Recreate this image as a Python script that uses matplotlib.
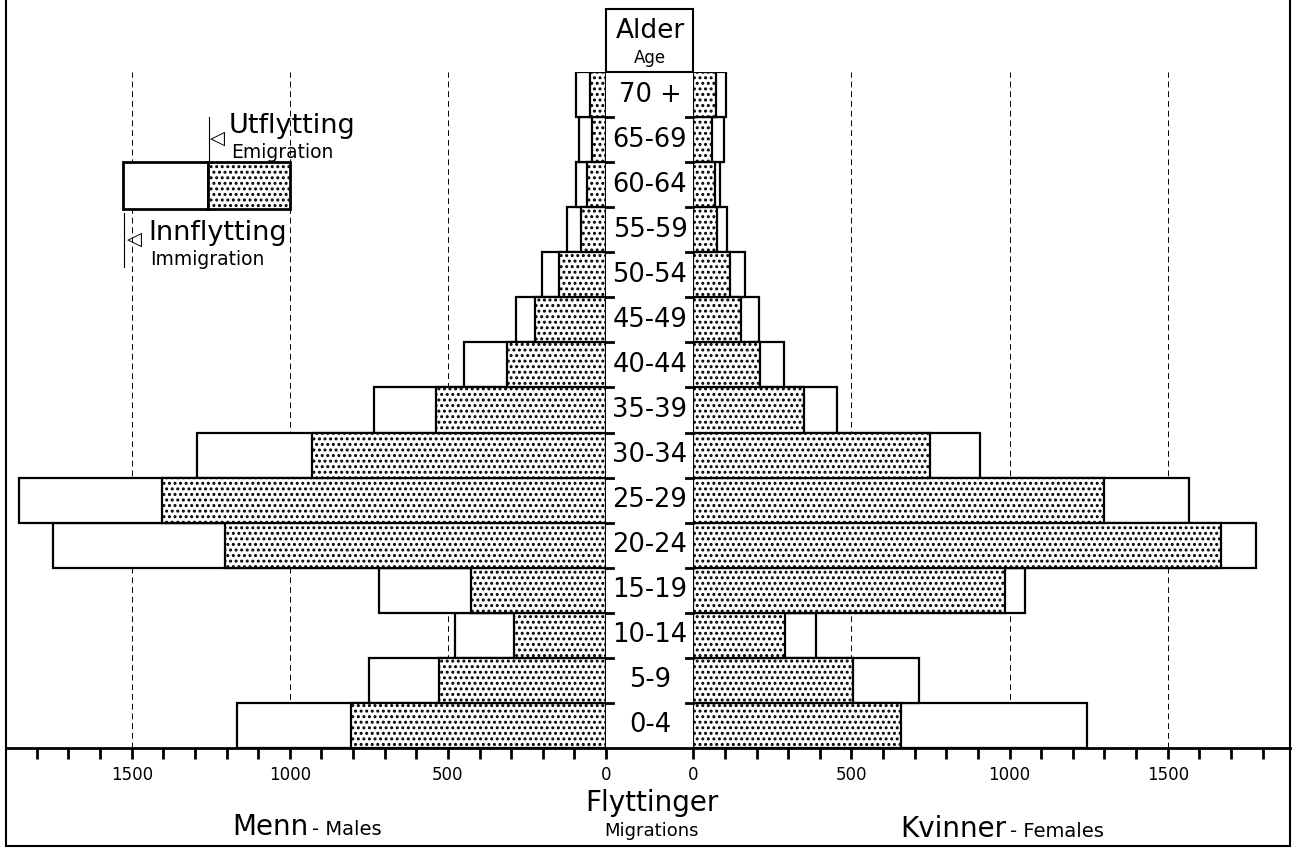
import matplotlib
matplotlib.use("Agg")
import matplotlib.pyplot as plt
from matplotlib import font_manager
from matplotlib.patches import Rectangle
from matplotlib.lines import Line2D
import numpy as np

# age groups, bottom to top
ages = ['0-4', '5-9', '10-14', '15-19', '20-24', '25-29', '30-34', '35-39',
        '40-44', '45-49', '50-54', '55-59', '60-64', '65-69', '70 +']

# Menn - Males
males_immigration = [1166, 748, 476, 717, 1749, 1855, 1295, 733, 450, 286, 203, 123, 95, 84, 94]
males_emigration = [806, 527, 290, 428, 1205, 1405, 929, 537, 312, 225, 149, 80, 61, 43, 51]

# Kvinner - Females
females_immigration = [1246, 712, 389, 1050, 1779, 1567, 905, 454, 287, 207, 164, 106, 84, 96, 103]
females_emigration = [655, 505, 290, 985, 1669, 1297, 749, 350, 211, 152, 116, 74, 67, 59, 70]

tick_labels = [0, 500, 1000, 1500]

W, H = 1305, 848
names = {f.name for f in font_manager.fontManager.ttflist}
if 'Liberation Sans Narrow' in names:
    NARROW, age_size, tick_size = 'Liberation Sans Narrow', 22, 15
else:
    NARROW, age_size, tick_size = 'DejaVu Sans', 18.5, 12
plt.rcParams['font.family'] = ['DejaVu Sans']
plt.rcParams['hatch.linewidth'] = 1.4


def fx(px):
    return px / W


def fy(py):
    return 1 - py / H


fig = plt.figure(figsize=(W / 100, H / 100), dpi=100)

zero_l, zero_r = 606, 693.4
scale = 0.3162  # px per person
top, base = 72, 748
axL = fig.add_axes([fx(6), fy(base), fx(zero_l - 6), (base - top) / H])
axR = fig.add_axes([fx(zero_r), fy(base), fx(1290 - zero_r), (base - top) / H])
axL.set_xlim((zero_l - 6) / scale, 0)
axR.set_xlim(0, (1290 - zero_r) / scale)

y = np.arange(len(ages))
for ax, imm, emi in [(axL, males_immigration, males_emigration),
                     (axR, females_immigration, females_emigration)]:
    ax.set_ylim(-0.5, len(ages) - 0.5)
    ax.patch.set_alpha(0)
    ax.vlines([500, 1000, 1500], -0.5, len(ages) - 0.5, colors='black',
              linestyles=(0, (6, 4)), linewidth=0.7, zorder=0)
    ax.barh(y, imm, height=1.0, color='white', edgecolor='black',
            linewidth=1.6, zorder=2)
    ax.barh(y, emi, height=1.0, color='white', edgecolor='black',
            hatch='...', linewidth=1.6, zorder=3)
    for s in ['top', 'left', 'right']:
        ax.spines[s].set_visible(False)
    ax.spines['bottom'].set_linewidth(2)
    ax.set_yticks([])
    ax.set_xticks(tick_labels)
    ax.set_xticks(np.arange(0, 1900, 100), minor=True)
    ax.set_xticklabels([str(t) for t in tick_labels], family=NARROW,
                       fontsize=tick_size)
    ax.tick_params(axis='x', which='both', direction='out', length=8,
                   width=2, pad=5)

# baseline across the age column
fig.add_artist(Line2D([fx(zero_l), fx(zero_r)], [fy(base), fy(base)],
                      color='black', linewidth=2))

# row separators poking into the age column
for i in range(1, len(ages)):
    py = base - i * (base - top) / len(ages)
    fig.add_artist(Line2D([fx(zero_l), fx(zero_l + 7)], [fy(py), fy(py)],
                          color='black', linewidth=2))
    fig.add_artist(Line2D([fx(zero_r - 7), fx(zero_r)], [fy(py), fy(py)],
                          color='black', linewidth=2))

# age labels
for i, a in enumerate(ages):
    py = base - (i + 0.5) * (base - top) / len(ages)
    fig.text(fx(650), fy(py), a, ha='center', va='center',
             family=NARROW, fontsize=age_size)

# "Alder / Age" header box
fig.add_artist(Rectangle((fx(zero_l), fy(top)), fx(zero_r - zero_l),
                         (top - 9) / H, facecolor='white', edgecolor='black',
                         linewidth=1.5))
fig.text(fx(650), fy(38), 'Alder', ha='center', va='baseline', fontsize=19)
fig.text(fx(650), fy(63), 'Age', ha='center', va='baseline', fontsize=12)

# legend
fig.add_artist(Rectangle((fx(123), fy(209)), fx(85), 47 / H,
                         facecolor='white', edgecolor='black', linewidth=2))
fig.add_artist(Rectangle((fx(208), fy(209)), fx(82), 47 / H,
                         facecolor='white', edgecolor='black', hatch='...',
                         linewidth=2))
fig.add_artist(Line2D([fx(209), fx(209)], [fy(117), fy(162)],
                      color='black', linewidth=0.8))
fig.add_artist(Line2D([fx(124), fx(124)], [fy(213), fy(267)],
                      color='black', linewidth=0.8))
fig.text(fx(210), fy(138), '\u25c1', ha='left', va='center', fontsize=14)
fig.text(fx(127), fy(239), '\u25c1', ha='left', va='center', fontsize=14)
fig.text(fx(229), fy(133), 'Utflytting', ha='left', va='baseline', fontsize=19.5)
fig.text(fx(231), fy(158), 'Emigration', ha='left', va='baseline', fontsize=13.5)
fig.text(fx(148), fy(240), 'Innflytting', ha='left', va='baseline', fontsize=19.5)
fig.text(fx(150), fy(265), 'Immigration', ha='left', va='baseline', fontsize=13.5)

# bottom titles
fig.text(fx(232), fy(835), 'Menn', ha='left', va='baseline', fontsize=20)
fig.text(fx(312), fy(835), '- Males', ha='left', va='baseline', fontsize=14)
fig.text(fx(652), fy(811), 'Flyttinger', ha='center', va='baseline', fontsize=20)
fig.text(fx(652), fy(836), 'Migrations', ha='center', va='baseline', fontsize=13)
fig.text(fx(900), fy(837), 'Kvinner', ha='left', va='baseline', fontsize=20)
fig.text(fx(1010), fy(837), '- Females', ha='left', va='baseline', fontsize=14)

# outer frame
fig.add_artist(Line2D([fx(6), fx(6)], [fy(0), fy(846)], color='black', linewidth=1.5))
fig.add_artist(Line2D([fx(1290), fx(1290)], [fy(0), fy(846)], color='black', linewidth=1.5))
fig.add_artist(Line2D([fx(6), fx(1290)], [fy(846), fy(846)], color='black', linewidth=1.5))

fig.savefig('out.png', dpi=100)
